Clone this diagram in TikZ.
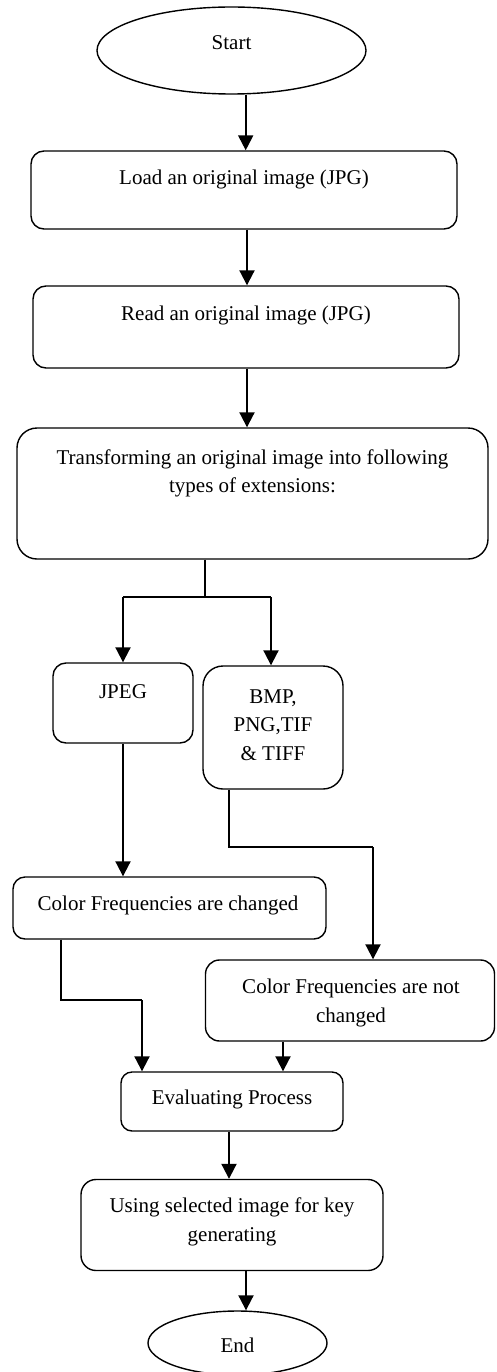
\documentclass[tikz,border=0pt]{standalone}
\usepackage{fontspec}
\setmainfont{Liberation Serif}
\usetikzlibrary{arrows.meta,shapes.geometric}
\begin{document}
\begin{tikzpicture}[x=1pt,y=1pt,
  box/.style={draw, line width=1.4pt, rounded corners=#1, inner sep=0pt},
  oval/.style={draw, ellipse, line width=1.4pt, inner sep=0pt},
  lbl/.style={font=\fontsize{21}{28.5}\selectfont, align=center, inner sep=0pt},
  arr/.style={line width=2pt, -{Triangle[width=15pt,length=15pt]}},
  wire/.style={line width=1.2pt}
]
\useasboundingbox (0,0) rectangle (496,-1372);

% shapes
\node[oval, minimum width=269pt, minimum height=87pt] (start) at (231.5,-50.5) {};
\node[lbl] (starttxt) at (231.5,-43) {Start};

\node[box=13pt, minimum width=426pt, minimum height=78pt] (load) at (244,-190) {};
\node[lbl] (loadtxt) at (244,-179) {Load an original image (JPG)};

\node[box=13pt, minimum width=426pt, minimum height=82pt] (read) at (246,-327) {};
\node[lbl] (readtxt) at (246,-315) {Read an original image (JPG)};

\node[box=20pt, minimum width=471pt, minimum height=131pt] (trans) at (252.5,-493.5) {};
\node[lbl] (transtxt) at (252.5,-473.5) {Transforming an original image into following\\types of extensions:};

\node[box=13pt, minimum width=140pt, minimum height=80pt] (jpeg) at (123,-703) {};
\node[lbl] (jpegtxt) at (123,-692) {JPEG};

\node[box=20pt, minimum width=140pt, minimum height=123pt] (bmp) at (273,-727.5) {};
\node[lbl] (bmptxt) at (273,-725) {BMP,\\PNG,TIF\\\& TIFF};

\node[box=12pt, minimum width=313pt, minimum height=62pt] (cfc) at (169.5,-908) {};
\node[lbl] (cfctxt) at (168,-905) {Color Frequencies are changed};

\node[box=14pt, minimum width=289pt, minimum height=81pt] (cfn) at (350,-1000.5) {};
\node[lbl] (cfntxt) at (351,-1003) {Color Frequencies are not\\changed};

\node[box=11pt, minimum width=222pt, minimum height=59pt] (eval) at (232,-1101.5) {};
\node[lbl] (evaltxt) at (232,-1099) {Evaluating Process};

\node[box=15pt, minimum width=302pt, minimum height=91pt] (using) at (232,-1225) {};
\node[lbl] (usingtxt) at (232,-1222) {Using selected image for key\\generating};

\node[oval, minimum width=179pt, minimum height=64pt] (end) at (237.5,-1343) {};
\node[lbl] (endtxt) at (237.5,-1345) {End};

% connector columns and bends
\coordinate (xA) at (245.7,0);
\coordinate (xB) at (247,0);
\coordinate (split) at (205,-597);
\coordinate (jl) at (123,-597);
\coordinate (bl) at (271,-597);
\coordinate (bk) at (229,-847);
\coordinate (bk2) at (373,-847);
\coordinate (ck) at (61,-1000);
\coordinate (ck2) at (142,-1000);
\coordinate (xF) at (283,0);
\coordinate (xG) at (229,0);
\coordinate (xH) at (246,0);

% connectors
\draw[arr] (xA |- start.south) -- (xA |- load.north);
\draw[arr] (xB |- load.south) -- (xB |- read.north);
\draw[arr] (xB |- read.south) -- (xB |- trans.north);

\draw[wire] (split |- trans.south) -- (split);
\draw[wire] (jl) -- (bl);
\draw[arr] (jl) -- (jl |- jpeg.north);
\draw[arr] (bl) -- (bl |- bmp.north);

\draw[arr] (jpeg.south) -- (jpeg.south |- cfc.north);

\draw[wire] (bk |- bmp.south) -- (bk) -- (bk2);
\draw[arr] (bk2) -- (bk2 |- cfn.north);

\draw[wire] (ck |- cfc.south) -- (ck) -- (ck2);
\draw[arr] (ck2) -- (ck2 |- eval.north);

\draw[arr] (xF |- cfn.south) -- (xF |- eval.north);
\draw[arr] (xG |- eval.south) -- (xG |- using.north);
\draw[arr] (xH |- using.south) -- (xH |- end.north);
\end{tikzpicture}
\end{document}
